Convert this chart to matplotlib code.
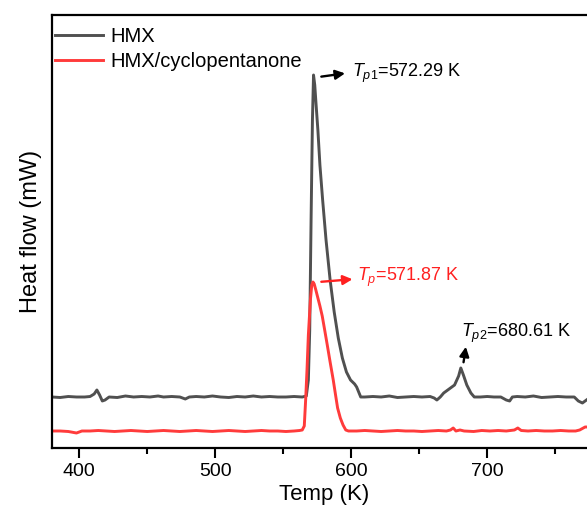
import matplotlib
matplotlib.use('Agg')
import matplotlib.pyplot as plt
from matplotlib.ticker import MultipleLocator

# (temperature in K, heat flow in arbitrary mW units)
hmx_temp = [380, 386, 392, 398, 404, 408, 411, 413, 415, 417, 419, 422, 428, 434, 440,
            446, 452, 458, 462, 468, 474, 478, 481, 486, 492, 498, 504, 510, 516, 522,
            528, 534, 540, 546, 552, 558, 564, 567, 568.5, 569.5, 570.5, 571.5, 572.3,
            573.2, 574.2, 575.5, 577, 579, 581.5, 584.5, 587.5, 590.5, 593.5, 596.5,
            599.5, 602.5, 604, 605.5, 607, 610, 616, 622, 628, 634, 640, 646, 652, 658,
            661, 663, 665.5, 668, 672, 676, 679, 680.6, 682.5, 685, 688, 690.5, 695,
            700, 705, 710, 714, 716.5, 718.5, 722, 728, 734, 740, 746, 752, 758, 764,
            767, 770, 773, 776, 780]
hmx_flow = [0.51, 0.505, 0.515, 0.51, 0.51, 0.515, 0.54, 0.58, 0.53, 0.47, 0.48, 0.51,
            0.505, 0.52, 0.51, 0.515, 0.51, 0.52, 0.51, 0.515, 0.51, 0.49, 0.51, 0.515,
            0.51, 0.52, 0.51, 0.505, 0.515, 0.51, 0.52, 0.51, 0.515, 0.51, 0.51, 0.515,
            0.51, 0.52, 0.68, 1.18, 2.28, 3.28, 3.73, 3.63, 3.43, 3.18, 2.83, 2.48,
            2.08, 1.68, 1.36, 1.10, 0.90, 0.76, 0.68, 0.64, 0.61, 0.56, 0.51, 0.51,
            0.515, 0.51, 0.52, 0.505, 0.51, 0.515, 0.51, 0.515, 0.50, 0.48, 0.51, 0.55,
            0.59, 0.63, 0.72, 0.80, 0.73, 0.63, 0.55, 0.51, 0.51, 0.515, 0.51, 0.51,
            0.48, 0.47, 0.51, 0.515, 0.51, 0.52, 0.505, 0.51, 0.515, 0.51, 0.51, 0.47,
            0.45, 0.48, 0.51, 0.51]

mix_temp = [380, 386, 392, 398, 402, 408, 414, 420, 426, 432, 438, 444, 450, 456, 462,
            468, 474, 480, 486, 492, 498, 504, 510, 516, 522, 528, 534, 540, 546, 552,
            558, 562, 564, 565.5, 566.5, 567.5, 568.5, 570, 571, 571.9, 572.8, 574,
            575.5, 577, 578.7, 580.5, 582.4, 584.5, 586.8, 588.5, 590, 592, 594, 596,
            598, 604, 610, 616, 622, 628, 634, 640, 646, 652, 658, 664, 670, 673, 675,
            677, 680, 683, 690, 696, 702, 708, 714, 720, 722.5, 725, 730, 736, 742,
            748, 754, 760, 765, 768, 772, 776, 780]
mix_flow = [0.17, 0.17, 0.165, 0.15, 0.17, 0.17, 0.175, 0.17, 0.165, 0.17, 0.175, 0.17,
            0.165, 0.17, 0.175, 0.17, 0.165, 0.17, 0.175, 0.17, 0.165, 0.17, 0.175,
            0.17, 0.165, 0.17, 0.175, 0.17, 0.17, 0.165, 0.17, 0.175, 0.18, 0.22, 0.48,
            0.78, 1.13, 1.48, 1.63, 1.66, 1.64, 1.58, 1.50, 1.42, 1.32, 1.18, 1.03,
            0.86, 0.68, 0.53, 0.40, 0.30, 0.23, 0.18, 0.17, 0.17, 0.175, 0.17, 0.165,
            0.17, 0.175, 0.17, 0.17, 0.165, 0.17, 0.175, 0.17, 0.18, 0.20, 0.17, 0.18,
            0.17, 0.165, 0.175, 0.17, 0.175, 0.17, 0.18, 0.20, 0.175, 0.17, 0.175, 0.17,
            0.17, 0.175, 0.17, 0.17, 0.18, 0.21, 0.21, 0.20]

labels = ['HMX', 'HMX/cyclopentanone']
peak_labels = [r'$\mathit{T}_{\mathit{p1}}$=572.29 K',
               r'$\mathit{T}_{\mathit{p}}$=571.87 K',
               r'$\mathit{T}_{\mathit{p2}}$=680.61 K']

plt.rcParams['font.family'] = ['Liberation Sans', 'DejaVu Sans']
plt.rcParams['mathtext.fontset'] = 'custom'
plt.rcParams['mathtext.rm'] = 'Liberation Sans'
plt.rcParams['mathtext.it'] = 'Liberation Sans:italic'

fig = plt.figure(figsize=(5.87, 5.11), dpi=100)
ax = fig.add_axes([52/587, 63/511, 544/587, 433/511])

ax.plot(hmx_temp, hmx_flow, color='#505050', lw=2.1, label=labels[0])
ax.plot(mix_temp, mix_flow, color='#ff3b3b', lw=2.1, label=labels[1])

ax.set_xlim(380, 780)
ax.set_ylim(0, 4.33)
ax.xaxis.set_major_locator(MultipleLocator(100))
ax.xaxis.set_minor_locator(MultipleLocator(50))
ax.set_yticks([])
ax.tick_params(axis='x', which='major', length=7, width=1.5, labelsize=14, pad=4)
ax.tick_params(axis='x', which='minor', length=4, width=1.5)
for sp in ax.spines.values():
    sp.set_linewidth(1.6)
ax.spines['right'].set_visible(False)

ax.set_xlabel('Temp (K)', fontsize=16, labelpad=3)
ax.set_ylabel('Heat flow (mW)', fontsize=17, labelpad=7)

# peak markers
arrow = dict(arrowstyle='-|>', color='k', lw=1.7, mutation_scale=14)
ax.annotate('', xy=(597.5, 3.75), xytext=(576.0, 3.71), arrowprops=arrow)
ax.text(600.7, 3.75, peak_labels[0], fontsize=13, va='center', ha='left')

ax.annotate('', xy=(603.0, 1.69), xytext=(576.0, 1.66),
            arrowprops=dict(arrow, color='#ff2020'))
ax.text(604.4, 1.71, peak_labels[1], fontsize=13, va='center', ha='left', color='#ff2020')

ax.annotate('', xy=(684.6, 1.04), xytext=(682.3, 0.83), arrowprops=arrow)
ax.text(680.9, 1.15, peak_labels[2], fontsize=13, va='center', ha='left')

ax.legend(loc='upper left', bbox_to_anchor=(0.005, 0.973), frameon=False, fontsize=14.5,
          handlelength=2.4, handletextpad=0.35, labelspacing=0.3, borderpad=0,
          borderaxespad=0)

fig.savefig('out.png', dpi=100)
